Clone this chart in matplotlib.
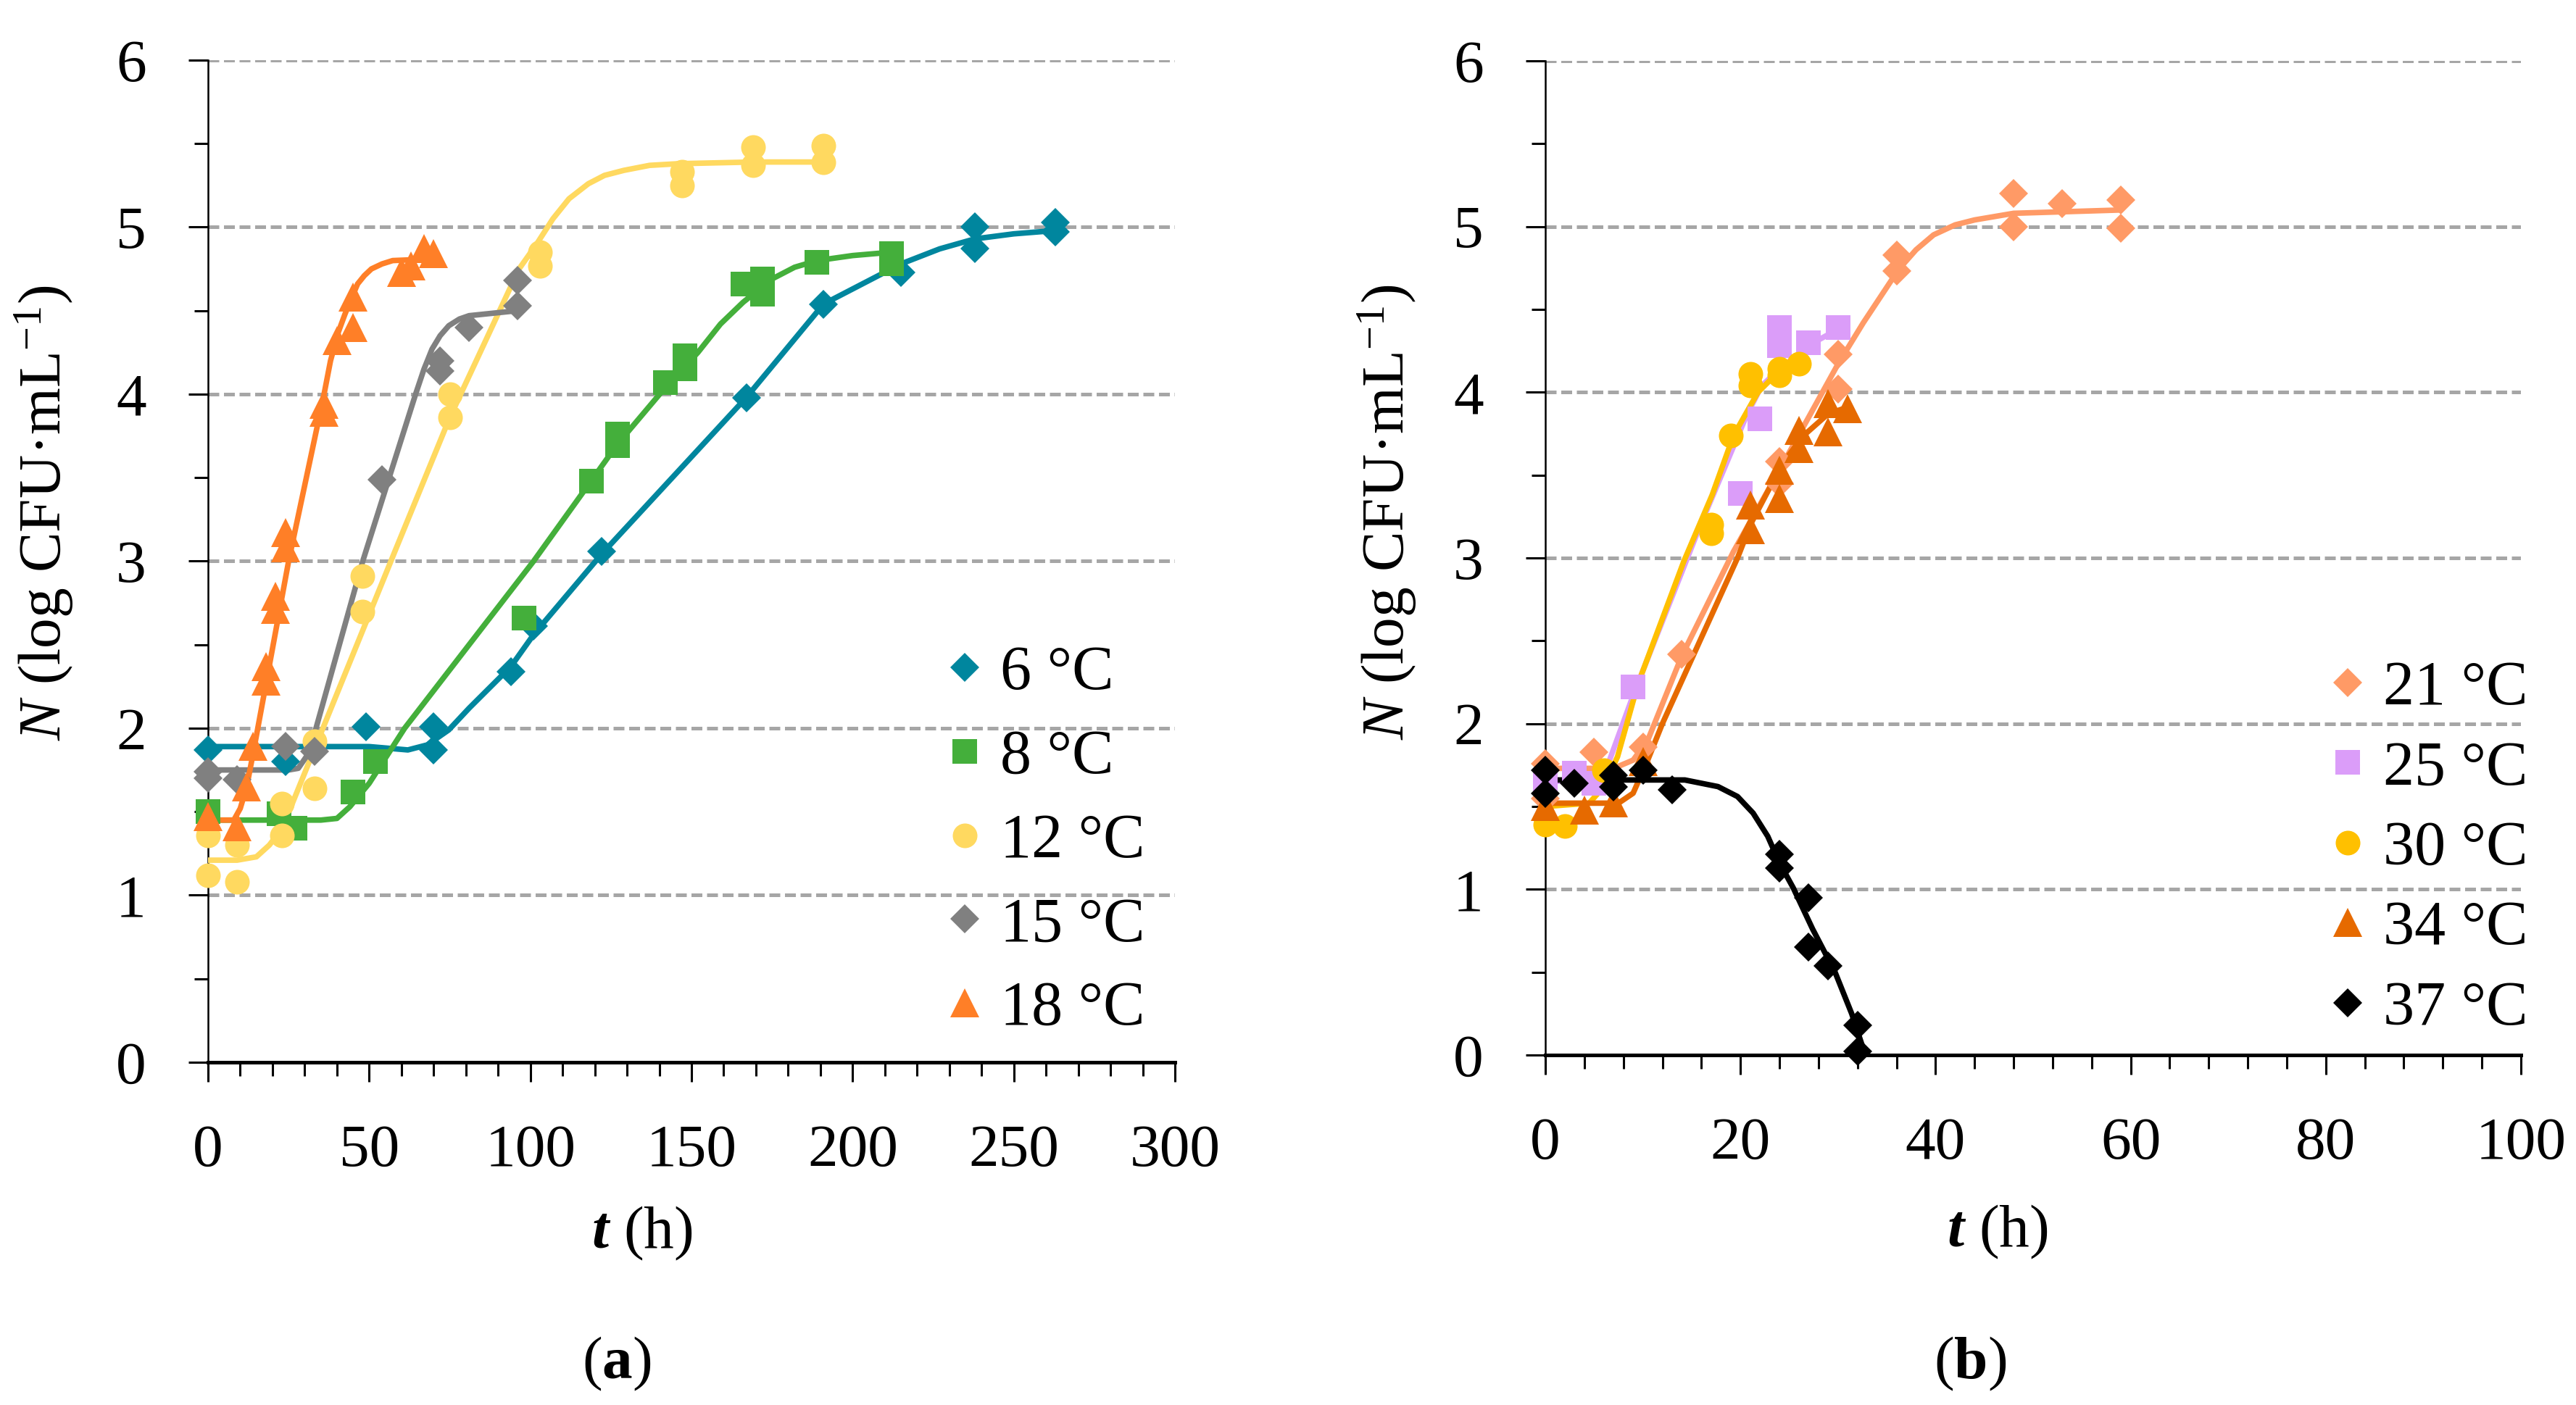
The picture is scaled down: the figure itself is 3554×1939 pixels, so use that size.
import matplotlib
matplotlib.use("Agg")
import matplotlib.pyplot as plt
from matplotlib.ticker import MultipleLocator

# fontes: serifada parecida com Palatino, com mathtext na mesma familia
plt.rcParams['font.family'] = ['Liberation Serif', 'DejaVu Serif']
plt.rcParams['mathtext.fontset'] = 'custom'
plt.rcParams['mathtext.rm'] = 'Liberation Serif'
plt.rcParams['mathtext.it'] = 'Liberation Serif:italic'
plt.rcParams['mathtext.bf'] = 'Liberation Serif:bold'
try:
    plt.rcParams['mathtext.bfit'] = 'Liberation Serif:bold:italic'
except KeyError:
    pass

# ---------------- painel (a): observacoes ----------------
t6 = [0, 24, 49, 70, 70, 94, 101, 122, 167, 191, 215, 238, 238, 263, 263]
N6 = [1.87, 1.80, 2.01, 2.01, 1.87, 2.34, 2.61, 3.06, 3.98, 4.54, 4.73, 5.00, 4.87, 5.03, 4.97]
t8 = [0, 22, 27, 45, 52, 98, 119, 127, 127, 142, 148, 148, 166, 172, 172, 189, 212, 212]
N8 = [1.50, 1.49, 1.40, 1.62, 1.80, 2.66, 3.48, 3.76, 3.69, 4.07, 4.23, 4.15, 4.66, 4.69, 4.60, 4.79, 4.84, 4.78]
t12 = [0, 0, 9, 9, 23, 23, 33, 33, 48, 48, 75, 75, 103, 103, 147, 147, 169, 169, 191, 191]
N12 = [1.36, 1.12, 1.30, 1.08, 1.55, 1.36, 1.92, 1.64, 2.91, 2.70, 4.00, 3.86, 4.85, 4.77, 5.33, 5.25, 5.48, 5.37, 5.49, 5.39]
t15 = [0, 0, 9, 24, 33, 54, 72, 72, 81, 96, 96]
N15 = [1.74, 1.70, 1.69, 1.89, 1.86, 3.49, 4.20, 4.14, 4.40, 4.68, 4.53]
t18 = [0, 9, 12, 14, 18, 18, 21, 21, 24, 24, 36, 36, 40, 45, 45, 60, 63, 67, 70]
N18 = [1.47, 1.41, 1.65, 1.89, 2.37, 2.28, 2.79, 2.71, 3.17, 3.08, 3.94, 3.89, 4.32, 4.58, 4.40, 4.73, 4.77, 4.87, 4.84]

# curvas ajustadas
c6_t = [0, 50, 62, 68, 74.7, 81, 94, 101, 122, 167, 191, 203, 215, 227, 238, 250, 263]
c6_N = [1.89, 1.89, 1.87, 1.90, 1.99, 2.12, 2.37, 2.56, 3.04, 3.98, 4.54, 4.66, 4.78, 4.87, 4.93, 4.96, 4.98]
c8_t = [0, 35, 40, 44, 50, 61, 101, 117, 127, 141, 152, 159, 166, 175, 182, 189, 200, 212]
c8_N = [1.45, 1.45, 1.46, 1.53, 1.67, 2.0, 3.0, 3.43, 3.70, 4.02, 4.25, 4.42, 4.55, 4.69, 4.76, 4.80, 4.83, 4.85]
c12_t = [0, 9, 15, 19, 23, 27, 58, 75, 96.5, 102, 107, 112, 118, 123, 129, 137, 146, 169, 191]
c12_N = [1.21, 1.21, 1.23, 1.30, 1.40, 1.59, 3.06, 3.86, 4.75, 4.90, 5.05, 5.17, 5.26, 5.31, 5.34, 5.37, 5.38, 5.39, 5.39]
c15_t = [0, 25, 28, 30.5, 33.5, 48, 64.4, 67, 69.5, 72, 74.7, 78, 81, 96]
c15_N = [1.75, 1.75, 1.76, 1.83, 2.0, 3.0, 4.0, 4.15, 4.27, 4.35, 4.41, 4.45, 4.47, 4.50]
c18_t = [0, 8, 10, 12, 14, 25, 36, 38, 40.4, 42.5, 44.2, 46.4, 48.5, 50.7, 54, 57.3, 70]
c18_N = [1.45, 1.45, 1.52, 1.65, 1.85, 3.0, 4.0, 4.2, 4.37, 4.48, 4.56, 4.66, 4.71, 4.75, 4.78, 4.80, 4.81]

# ---------------- painel (b): observacoes ----------------
t21 = [0, 0, 5, 10, 14, 24, 24, 30, 30, 36, 36, 48, 48, 53, 59, 59]
N21 = [1.76, 1.55, 1.83, 1.86, 2.42, 3.58, 3.45, 4.23, 4.02, 4.83, 4.73, 5.20, 5.00, 5.14, 5.16, 4.99]
t25 = [0, 3, 5, 9, 20, 22, 24, 24, 27, 30]
N25 = [1.65, 1.70, 1.64, 2.22, 3.39, 3.84, 4.39, 4.28, 4.30, 4.39]
t30 = [0, 2, 6, 17, 17, 19, 21, 21, 24, 24, 26]
N30 = [1.39, 1.38, 1.72, 3.20, 3.15, 3.74, 4.11, 4.04, 4.14, 4.10, 4.17]
t34 = [0, 4, 7, 10, 21, 21, 24, 24, 26, 26, 29, 29, 31]
N34 = [1.50, 1.48, 1.52, 1.77, 3.32, 3.17, 3.53, 3.36, 3.77, 3.66, 3.93, 3.76, 3.90]
t37 = [0, 0, 3, 7, 7, 10, 13, 24, 24, 27, 27, 29, 32, 32]
N37 = [1.72, 1.58, 1.64, 1.69, 1.62, 1.72, 1.60, 1.21, 1.13, 0.95, 0.65, 0.54, 0.18, 0.02]

c21_t = [0, 7, 9, 10.5, 14, 19.3, 24, 30, 32.6, 36.2, 38, 39.8, 42, 44, 48, 59]
c21_N = [1.73, 1.73, 1.78, 1.90, 2.41, 3.04, 3.53, 4.17, 4.42, 4.74, 4.86, 4.95, 5.01, 5.04, 5.08, 5.10]
c25_t = [0, 5, 6.4, 9.0, 15.7, 20.7, 22.2, 24, 27.2, 30]
c25_N = [1.65, 1.66, 1.75, 2.17, 3.17, 3.87, 4.04, 4.14, 4.29, 4.38]
c30_t = [0, 4.5, 6, 7.4, 9.5, 14.2, 17.1, 19.3, 21.8, 23.5, 26]
c30_N = [1.50, 1.52, 1.62, 1.80, 2.24, 2.98, 3.38, 3.74, 4.0, 4.10, 4.14]
c34_t = [0, 7.5, 9, 10.5, 12, 19.7, 21.1, 24.3, 26.5, 29, 31]
c34_N = [1.52, 1.52, 1.58, 1.78, 2.0, 3.0, 3.21, 3.57, 3.74, 3.87, 3.91]
c37_t = [0, 14.3, 17.7, 19.7, 21.3, 22.8, 24.0, 25.4, 27.4, 29.7, 31.4, 32.8]
c37_N = [1.66, 1.66, 1.62, 1.56, 1.46, 1.32, 1.16, 1.01, 0.76, 0.50, 0.25, 0.0]

serie_a = [
    ("6 °C", t6, N6, c6_t, c6_N, "#00869E", "D", 20.5),
    ("8 °C", t8, N8, c8_t, c8_N, "#44AF3B", "s", 25),
    ("12 °C", t12, N12, c12_t, c12_N, "#FFD960", "o", 24.5),
    ("15 °C", t15, N15, c15_t, c15_N, "#808080", "D", 20.5),
    ("18 °C", t18, N18, c18_t, c18_N, "#FF7F27", "^", 29),
]
serie_b = [
    ("21 °C", t21, N21, c21_t, c21_N, "#FF9A66", "D", 20.5),
    ("25 °C", t25, N25, c25_t, c25_N, "#DB9DF9", "s", 25),
    ("30 °C", t30, N30, c30_t, c30_N, "#FFC000", "o", 24.5),
    ("34 °C", t34, N34, c34_t, c34_N, "#E66A00", "^", 29),
    ("37 °C", t37, N37, c37_t, c37_N, "#000000", "D", 20.5),
]

FS = 60
COR_GRELHA = "#A6A6A6"


def desenhar_painel(ax, series, xmax, xmaj, xmen, leg_pos, leg_esp):
    ax.set_xlim(0, xmax)
    ax.set_ylim(0, 6)
    ax.yaxis.grid(True, which="major", color=COR_GRELHA, lw=3.6, ls=(0, (3.0, 1.3)))
    ax.set_axisbelow(True)

    # curvas primeiro, marcadores por cima
    for nome, t, n, ct, cn, cor, mk, ms in series:
        ax.plot(ct, cn, color=cor, lw=5.5, solid_capstyle="round",
                solid_joinstyle="round", zorder=3)
    for nome, t, n, ct, cn, cor, mk, ms in series:
        ax.plot(t, n, ls="none", marker=mk, ms=ms, mfc=cor, mec=cor, mew=0,
                label=nome, clip_on=False, zorder=4)

    for lado in ("top", "right"):
        ax.spines[lado].set_visible(False)
    ax.spines["left"].set_linewidth(1.8)
    ax.spines["bottom"].set_linewidth(3.6)
    ax.spines["bottom"].set_zorder(5)

    ax.xaxis.set_major_locator(MultipleLocator(xmaj))
    ax.xaxis.set_minor_locator(MultipleLocator(xmen))
    ax.yaxis.set_major_locator(MultipleLocator(1))
    ax.yaxis.set_minor_locator(MultipleLocator(0.5))
    ax.tick_params(which="major", direction="out", length=19.4, width=2.2,
                   labelsize=FS, pad=42)
    ax.tick_params(which="minor", direction="out", length=14, width=2.2)

    ax.legend(loc="center left", bbox_to_anchor=leg_pos, frameon=False,
              fontsize=62, handlelength=0.6, handletextpad=0.27,
              borderpad=0, borderaxespad=0, labelspacing=leg_esp, numpoints=1)


fig = plt.figure(figsize=(35.54, 19.39), dpi=100)
ax1 = fig.add_axes([0.08076, 0.24394, 0.37535, 0.71326])
ax2 = fig.add_axes([0.59989, 0.24910, 0.37873, 0.70758])

desenhar_painel(ax1, serie_a, 300, 50, 10, (0.763, 0.2198), 0.42)
desenhar_painel(ax2, serie_b, 100, 20, 4, (0.803, 0.207), 0.36)

rotulo_y = r"$\mathit{N}$ (log CFU·mL$^{-1}$)"
rotulo_x = r"$\mathbfit{t}$ (h)"
fig.text(0.01716, 0.6349, rotulo_y, rotation=90, fontsize=FS, ha="center", va="center")
fig.text(0.5383, 0.6354, rotulo_y, rotation=90, fontsize=FS, ha="center", va="center")
fig.text(0.2493, 0.1222, rotulo_x, fontsize=FS, ha="center", va="center")
fig.text(0.7755, 0.1233, rotulo_x, fontsize=FS, ha="center", va="center")
fig.text(0.2395, 0.0294, r"($\mathbf{a}$)", fontsize=FS, ha="center", va="center")
fig.text(0.7648, 0.0294, r"($\mathbf{b}$)", fontsize=FS, ha="center", va="center")

fig.savefig("out.png", dpi=100, facecolor="white")
